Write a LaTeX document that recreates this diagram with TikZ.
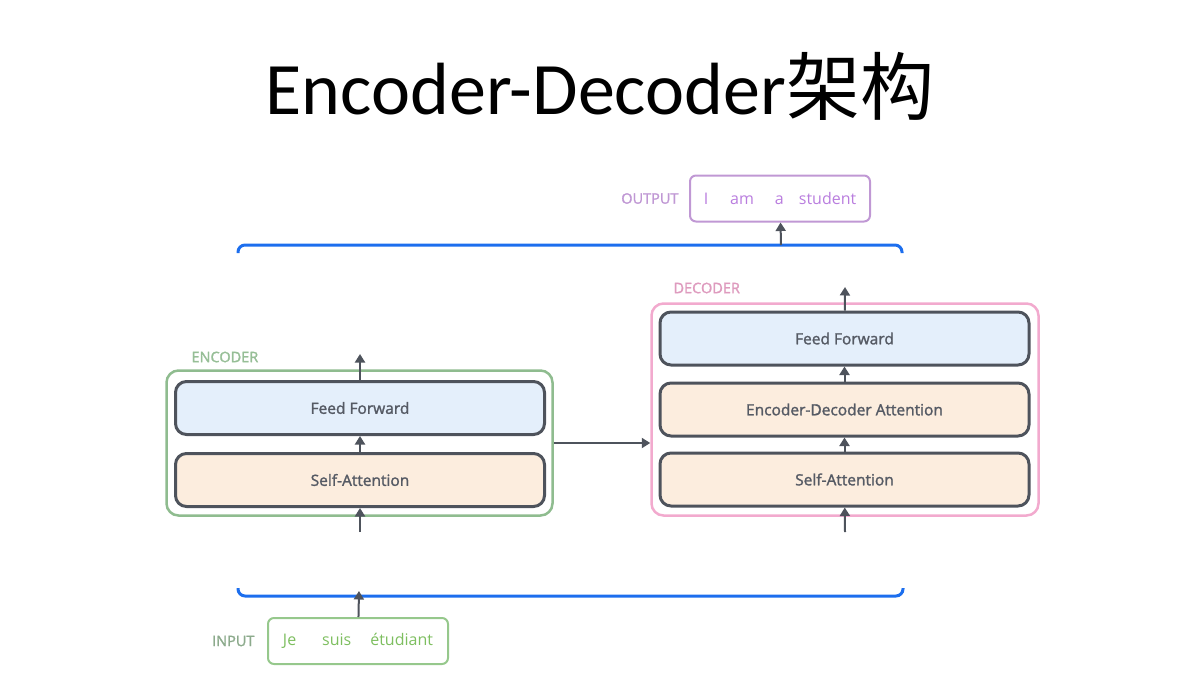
\documentclass[tikz,border=0pt]{standalone}
\usepackage{fontspec}
\setmainfont{Open Sans}
\newfontfamily\titlefont{Carlito}
\newfontfamily\cjkfont{Noto Sans CJK SC}
\newfontfamily\semifont{Open Sans}[FakeBold=1.6]
\usetikzlibrary{arrows.meta,positioning}
\definecolor{bracketblue}{RGB}{28,110,238}
\definecolor{layerline}{RGB}{78,83,92}
\definecolor{layertext}{RGB}{85,90,100}
\definecolor{ffnfill}{RGB}{228,239,251}
\definecolor{attfill}{RGB}{252,237,222}
\definecolor{encline}{RGB}{143,188,143}
\definecolor{enctext}{RGB}{150,190,150}
\definecolor{decline}{RGB}{242,170,206}
\definecolor{dectext}{RGB}{222,155,190}
\definecolor{outline}{RGB}{192,152,212}
\definecolor{outtext}{RGB}{185,125,222}
\definecolor{inline}{RGB}{150,200,140}
\definecolor{intext}{RGB}{125,190,95}
\definecolor{inlabel}{RGB}{140,170,140}

\begin{document}
\begin{tikzpicture}[x=1pt, y=-1pt,
    layer/.style={draw=layerline, line width=3pt, rounded corners=11pt,
        minimum width=369pt, minimum height=53pt, text=layertext,
        font=\semifont\fontsize{15.5}{18}\selectfont},
    stack/.style={draw=#1, line width=2.5pt, rounded corners=12pt},
    tag/.style={font=\semifont\fontsize{14.5}{16}\selectfont},
    wordbox/.style={draw=#1, line width=2pt, rounded corners=6pt,
        minimum width=180pt, minimum height=46pt,
        font=\fontsize{16}{19}\selectfont},
    flow/.style={draw=layerline, line width=2pt,
        -{Triangle[length=8.5pt, width=10pt]}},
    bracket/.style={draw=bracketblue, line width=3pt, rounded corners=7pt}]
    \useasboundingbox (0,0) rectangle (1200,675);

    % title
    \node (title) at (600,86)
        {\titlefont\fontsize{74}{80}\selectfont Encoder-Decoder{\cjkfont 架构}};

    % encoder
    \node[stack=encline, minimum width=386pt, minimum height=145pt] (encBox) at (359.5,443) {};
    \node[tag, text=enctext, anchor=west] (encLabel) at (188,357) {ENCODER};
    \node[layer, fill=ffnfill] (encFF) at (360,408) {Feed Forward};
    \node[layer, fill=attfill] (encSA) at (360,480) {Self-Attention};

    % decoder
    \node[stack=decline, minimum width=387pt, minimum height=212pt] (decBox) at (845,409.5) {};
    \node[tag, text=dectext, anchor=west] (decLabel) at (670,288) {DECODER};
    \node[layer, fill=ffnfill] (decFF) at (844.5,338.5) {Feed Forward};
    \node[layer, fill=attfill] (decEDA) at (844.5,409.5) {Encoder-Decoder Attention};
    \node[layer, fill=attfill] (decSA) at (844.5,479.5) {Self-Attention};

    % input / output
    \node[wordbox=outline, text=outtext] (outBox) at (780,198.5)
        {I\hspace{22pt}am\hspace{21pt}a\hspace{15pt}student};
    \node[tag, text=outline, left=7pt of outBox] (outLabel) {OUTPUT};
    \node[wordbox=inline, text=intext] (inBox) at (358,641)
        {Je\hspace{26pt}suis\hspace{19pt}étudiant};
    \node[tag, text=inlabel, left=9pt of inBox] (inLabel) {INPUT};

    % blue brackets
    \coordinate (topOut) at (781,245);
    \coordinate (botIn) at (359,591);
    \draw[bracket] (238,253) -- (238,245) -- (902,245) -- (902,253);
    \draw[bracket] (238,588) -- (238,596) -- (903,596) -- (903,588);

    % arrows
    \coordinate (encIn) at (360,532);
    \coordinate (encOut) at (360,354);
    \coordinate (decIn) at (845,532);
    \coordinate (decOut) at (845,287);
    \draw[flow] (encIn) -- (encSA);
    \draw[flow] (encSA) -- (encFF);
    \draw[flow] (encFF) -- (encOut);
    \draw[flow] (encBox.east |- 0,443) -- (decBox.west |- 0,443);
    \draw[flow] (decIn) -- (decSA);
    \draw[flow] (decSA) -- (decEDA);
    \draw[flow] (decEDA) -- (decFF);
    \draw[flow] (decFF) -- (decOut);
    \draw[flow] (topOut) -- (outBox);
    \draw[flow] (inBox) -- (botIn);
\end{tikzpicture}
\end{document}
